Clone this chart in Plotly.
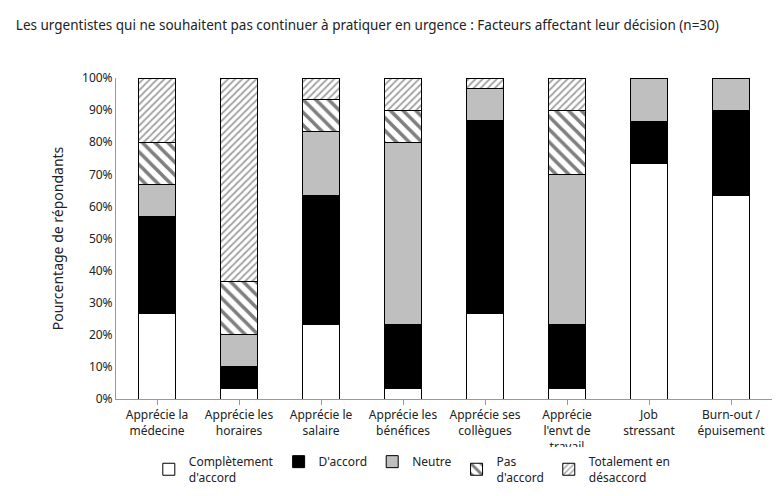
import plotly.graph_objects as go

categories = ["Apprécie la<br>médecine", "Apprécie les<br>horaires", "Apprécie le<br>salaire",
              "Apprécie les<br>bénéfices", "Apprécie ses<br>collègues", "Apprécie<br>l'envt de<br>travail",
              "Job<br>stressant", "Burn-out /<br>épuisement"]
completement = [26.7, 3.3, 23.3, 3.3, 26.7, 3.3, 73.3, 63.3]
daccord = [30.0, 6.7, 40.0, 20.0, 60.0, 20.0, 13.3, 26.7]
neutre = [10.0, 10.0, 20.0, 56.7, 10.0, 46.7, 13.3, 10.0]
pas_daccord = [13.3, 16.7, 10.0, 10.0, 0.0, 20.0, 0.0, 0.0]
totalement = [20.0, 63.3, 6.7, 10.0, 3.3, 10.0, 0.0, 0.0]

series = [
    ("Complètement<br>d'accord", completement, "white", None),
    ("D'accord", daccord, "black", None),
    ("Neutre", neutre, "#bfbfbf", None),
    ("Pas<br>d'accord", pas_daccord, "white", dict(shape="\\", size=9, solidity=0.4, fgcolor="black")),
    ("Totalement en<br>désaccord", totalement, "white", dict(shape="/", size=5, solidity=0.35, fgcolor="#444")),
]

fig = go.Figure()
for name, vals, color, pattern in series:
    marker = dict(color=color, line=dict(color="black", width=1))
    if pattern:
        marker["pattern"] = pattern
    fig.add_trace(go.Bar(x=categories, y=vals, name=name, marker=marker, width=0.45))

fig.update_layout(
    barmode="stack",
    width=784, height=496,
    font=dict(family="Noto Sans", size=12, color="#222"),
    title=dict(text="Les urgentistes qui ne souhaitent pas continuer à pratiquer en urgence : Facteurs affectant leur décision (n=30)",
               x=0.01, xanchor="left", y=0.975, font=dict(size=13.5)),
    plot_bgcolor="white", paper_bgcolor="white",
    margin=dict(l=108, r=20, t=70, b=96),
    legend=dict(orientation="h", x=0.05, y=-0.15, xanchor="left", yanchor="top",
                font=dict(size=12), bgcolor="white", traceorder="normal"),
)
fig.update_yaxes(range=[0, 100], ticksuffix="%", dtick=10, showgrid=False,
                 showline=True, linecolor="#999", ticks="", title="Pourcentage de répondants")
fig.update_xaxes(showline=True, linecolor="#999", ticks="outside", tickcolor="#999")

fig.write_html("out.html")
